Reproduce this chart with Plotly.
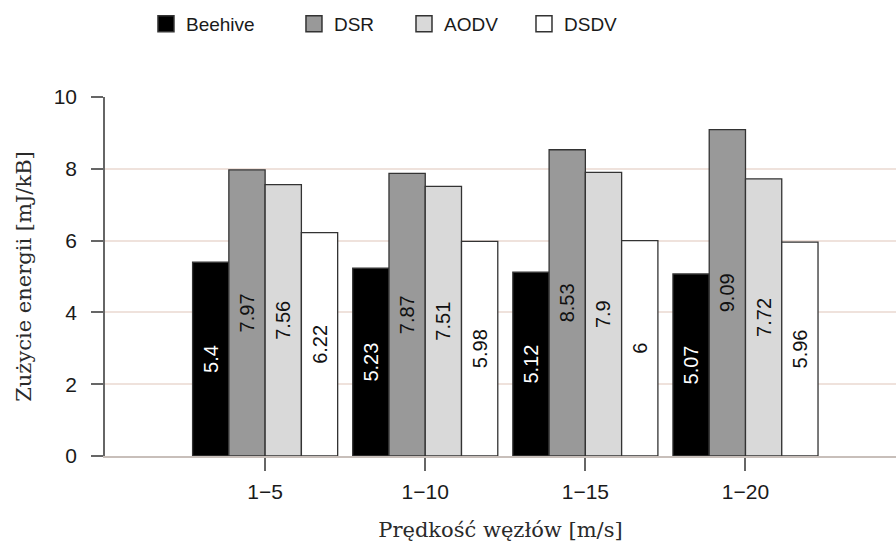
import plotly.graph_objects as go

categories = ["1\u22125", "1\u221210", "1\u221215", "1\u221220"]
series_names = ["Beehive", "DSR", "AODV", "DSDV"]
beehive = [5.4, 5.23, 5.12, 5.07]
dsr = [7.97, 7.87, 8.53, 9.09]
aodv = [7.56, 7.51, 7.9, 7.72]
dsdv = [6.22, 5.98, 6.0, 5.96]
y_ticks = [0, 2, 4, 6, 8, 10]

values = [beehive, dsr, aodv, dsdv]
fills = ["#000000", "#999999", "#d9d9d9", "#ffffff"]
text_colors = ["#ffffff", "#111111", "#111111", "#111111"]
legend_ids = ["legend", "legend2", "legend3", "legend4"]
legend_x = [0.0518, 0.2389, 0.3780, 0.5297]

fig = go.Figure()
for name, vals, fc, tc, lg in zip(series_names, values, fills, text_colors, legend_ids):
    fig.add_trace(go.Bar(
        x=categories, y=vals, name=name, showlegend=False, legendgroup=name,
        marker=dict(color=fc, line=dict(color="#333333", width=1.3)),
        text=[f"{v:g}" for v in vals], textposition="inside",
        insidetextanchor="middle", textangle=-90, constraintext="none",
        textfont=dict(family="Liberation Sans, Arial, sans-serif", size=20, color=tc),
        hoverinfo="skip",
    ))
    fig.add_trace(go.Scatter(
        x=[None], y=[None], mode="markers", name=name, legendgroup=name, legend=lg,
        marker=dict(symbol="square", size=16, color=fc, line=dict(color="#333333", width=1.5)),
    ))

layout_legends = {}
for lg, lx in zip(legend_ids, legend_x):
    layout_legends[lg] = dict(
        x=lx, y=1.2033, xanchor="left", yanchor="middle", orientation="h",
        font=dict(family="Liberation Sans, Arial, sans-serif", size=19, color="#1a1a1a"),
        bgcolor="rgba(0,0,0,0)", borderwidth=0, itemclick=False, itemdoubleclick=False,
    )

fig.update_layout(
    width=896, height=545,
    margin=dict(l=105, r=0, t=97, b=89, autoexpand=False),
    plot_bgcolor="#ffffff", paper_bgcolor="#ffffff",
    barmode="group", bargap=0.094, bargroupgap=0,
    **layout_legends,
)
fig.update_xaxes(
    type="category", range=[-1, 3.94],
    showline=True, linecolor="#c8bfba", linewidth=1.5,
    ticks="outside", ticklen=13, tickcolor="#666666", tickwidth=1.5,
    showgrid=False, zeroline=False, ticklabelstandoff=3,
    tickfont=dict(family="Liberation Sans, Arial, sans-serif", size=21, color="#1a1a1a"),
    title=dict(text="Prędkość węzłów [m/s]", standoff=20,
               font=dict(family="DejaVu Serif, serif", size=21, color="#2a2a2a")),
)
fig.update_yaxes(
    range=[0, 10], tickvals=y_ticks,
    showline=True, linecolor="#666666", linewidth=1.5,
    ticks="outside", ticklen=12, tickcolor="#666666", tickwidth=1.5,
    showgrid=True, gridcolor="#efe2dc", gridwidth=1.5, zeroline=False,
    ticklabelstandoff=10,
    tickfont=dict(family="Liberation Sans, Arial, sans-serif", size=21, color="#1a1a1a"),
    title=dict(text="Zużycie energii [mJ/kB]", standoff=16,
               font=dict(family="DejaVu Serif, serif", size=21, color="#2a2a2a")),
)

fig.write_html("out.html", config={"displayModeBar": False},
               post_script="document.body.style.margin='0';")
